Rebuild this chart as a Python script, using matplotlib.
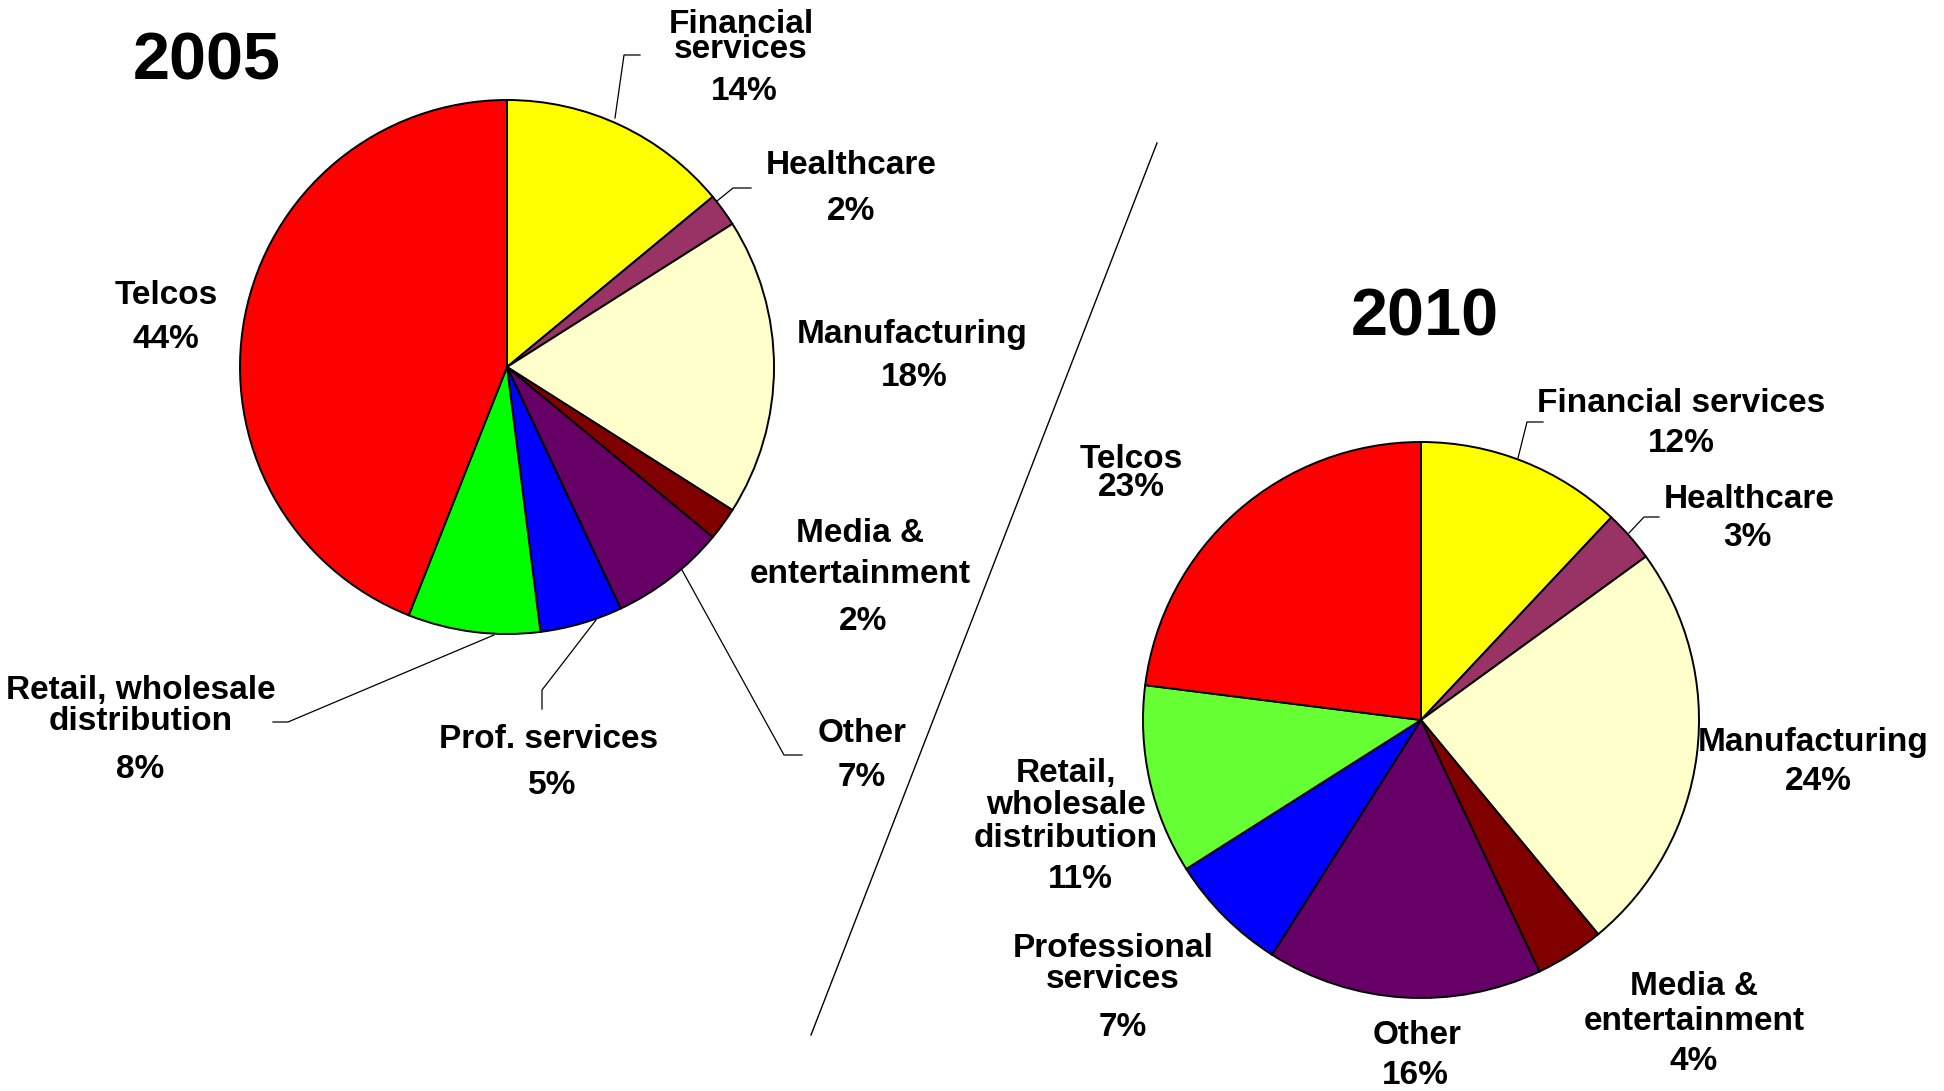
import matplotlib
matplotlib.use("Agg")
import matplotlib.pyplot as plt

plt.rcParams['font.family'] = ['Liberation Sans', 'DejaVu Sans']
plt.rcParams['font.weight'] = 'bold'

W, H = 1944, 1091

sectors = ["Financial services", "Healthcare", "Manufacturing", "Media & entertainment",
           "Other", "Professional services", "Retail, wholesale distribution", "Telcos"]
share_2005 = [14, 2, 18, 2, 7, 5, 8, 44]
share_2010 = [12, 3, 24, 4, 16, 7, 11, 23]

colors_2005 = ["#FFFF00", "#993366", "#FFFFCC", "#800000", "#660066", "#0000FF", "#00FF00", "#FF0000"]
colors_2010 = ["#FFFF00", "#993366", "#FFFFCC", "#800000", "#660066", "#0000FF", "#66FF33", "#FF0000"]

# label wording per slice
names_2005 = ["Financial\nservices", "Healthcare", "Manufacturing", "Media &\nentertainment",
              "Other", "Prof. services", "Retail, wholesale\ndistribution", "Telcos"]
names_2010 = ["Financial services", "Healthcare", "Manufacturing", "Media &\nentertainment",
              "Other", "Professional\nservices", "Retail,\nwholesale\ndistribution", "Telcos"]

# label centres in pixels from the top-left corner, plus line spacing of the name
name_pos_2005 = [(741, 37), (851, 166), (912, 335), (860, 554), (862, 733), (549, 740), (141, 706), (166, 295)]
pct_pos_2005 = [(744, 92), (851, 212), (914, 378), (863, 621), (862, 777), (552, 785), (140, 769), (166, 340)]
spacing_2005 = [0.75, 1, 1, 1.38, 1, 1, 1.0, 1]

name_pos_2010 = [(1681, 403), (1749, 500), (1813, 743), (1694, 1004), (1417, 1035), (1113, 964), (1066, 806), (1131, 459)]
pct_pos_2010 = [(1681, 443), (1747, 538), (1818, 782), (1694, 1062), (1415, 1075), (1123, 1028), (1080, 879), (1131, 487)]
spacing_2010 = [1, 1, 1, 1.2, 1, 1.0, 1.05, 1]

# leader lines, pixels from the top-left corner
leaders_2005 = [
    [(615, 118), (624, 55), (640, 55)],
    [(717, 201), (733, 188), (751, 188)],
    [(494, 635), (288, 722), (273, 722)],
    [(596, 620), (542, 690), (542, 709)],
    [(682, 570), (784, 755), (802, 755)],
]
leaders_2010 = [
    [(1518, 458), (1527, 422), (1543, 422)],
    [(1629, 533), (1644, 517), (1659, 517)],
]

fig = plt.figure(figsize=(W / 100, H / 100), dpi=100)
ax = fig.add_axes([0, 0, 1, 1])


def fy(y):
    return H - y


def draw_pie(values, colors, center, radius):
    ax.pie(values, colors=colors, startangle=90, counterclock=False,
           center=(center[0], fy(center[1])), radius=radius, frame=True,
           wedgeprops=dict(edgecolor='black', linewidth=1.4))


draw_pie(share_2005, colors_2005, (507, 367), 267)
draw_pie(share_2010, colors_2010, (1421, 720), 278)
ax.set_xlim(0, W)
ax.set_ylim(0, H)
ax.set_aspect('equal')
ax.axis('off')

label_size = 24
for names, npos, ppos, spc, vals in [
        (names_2005, name_pos_2005, pct_pos_2005, spacing_2005, share_2005),
        (names_2010, name_pos_2010, pct_pos_2010, spacing_2010, share_2010)]:
    for name, (nx, ny), (px, py), ls, v in zip(names, npos, ppos, spc, vals):
        ax.text(nx, fy(ny), name, ha='center', va='center', fontsize=label_size,
                fontweight='bold', linespacing=ls)
        ax.text(px, fy(py), f"{v}%", ha='center', va='center', fontsize=label_size,
                fontweight='bold')

for pts in leaders_2005 + leaders_2010:
    ax.plot([p[0] for p in pts], [fy(p[1]) for p in pts], color='black', lw=0.9)

ax.text(207, fy(62), "2005", ha='center', va='center', fontsize=48, fontweight='bold')
ax.text(1425, fy(319), "2010", ha='center', va='center', fontsize=48, fontweight='bold')

# separator between the two years
ax.plot([1157, 811], [fy(143), fy(1035)], color='black', lw=1)

fig.savefig("out.png", dpi=100, facecolor='white')
